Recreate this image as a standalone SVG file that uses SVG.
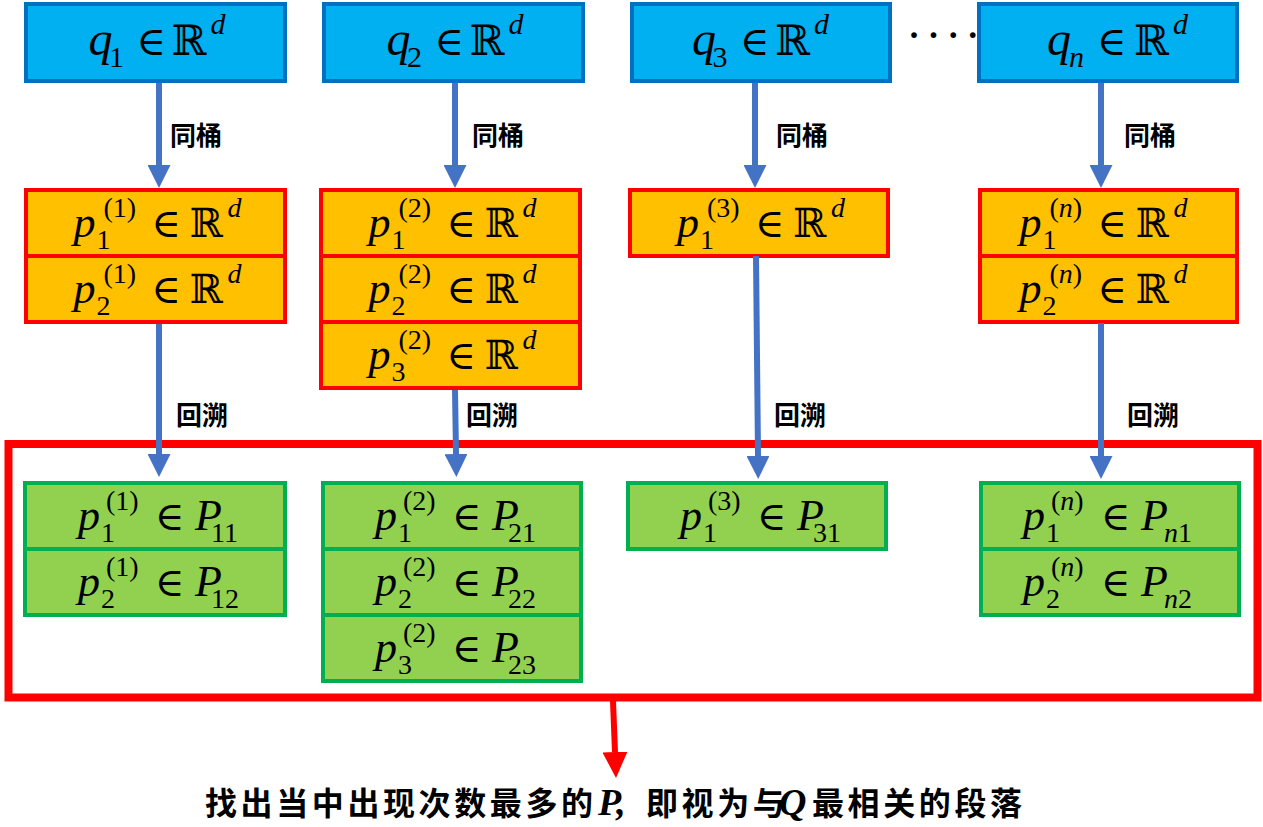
<svg xmlns="http://www.w3.org/2000/svg" width="1263" height="827" viewBox="0 0 1263 827">
<defs>
<style>
.bq{fill:#00B0F0;stroke:#0070C0;stroke-width:4}
.bo{fill:#FFC000;stroke:#FF0000;stroke-width:4}
.bg{fill:#92D050;stroke:#00B050;stroke-width:4}
.eq{font-family:"Liberation Serif","Times New Roman",serif;fill:#000}
.mi{font-family:"Liberation Serif","Times New Roman",serif;font-style:italic}
.mu{font-family:"Liberation Serif","Times New Roman",serif;font-style:normal}
.db{font-family:"DejaVu Serif",serif;font-style:normal}
.Q{font-size:48px}
.L{font-size:44px}
.M{font-size:40px}
.R{font-size:42px}
.S{font-size:28px}
.T{font-size:30px}
.lbl{font-family:"Noto Sans CJK SC",sans-serif;font-size:26px;font-weight:bold;fill:#000}
.cap{font-family:"Noto Sans CJK SC",sans-serif;font-size:32px;font-weight:bold;letter-spacing:3.6px;fill:#000}
.capm{font-family:"Liberation Serif","Times New Roman",serif;font-style:italic;font-weight:bold;font-size:38px;letter-spacing:0}
.dots{font-family:"Liberation Serif",serif;font-size:48px;letter-spacing:3.6px;fill:#000}
.cb{fill:none;stroke:#4472C4;stroke-width:6}
.cr{fill:none;stroke:#FF0000;stroke-width:6}
</style>
<marker id="hb" viewBox="0 0 23 23" refX="0" refY="11.5" markerWidth="23" markerHeight="23" markerUnits="userSpaceOnUse" orient="auto"><path d="M0,0L23,11.5L0,23z" fill="#4472C4"/></marker>
<marker id="hr" viewBox="0 0 26 25" refX="0" refY="12.5" markerWidth="26" markerHeight="25" markerUnits="userSpaceOnUse" orient="auto"><path d="M0,0L26,12.5L0,25z" fill="#FF0000"/></marker>
</defs>
<rect width="1263" height="827" fill="#fff"/>

<g id="q1"><rect class="bq" x="26" y="4" width="259" height="77"/>
<text class="eq"><tspan class="mi Q" x="88.5" y="55">q</tspan><tspan class="mu T" x="109" y="67">1</tspan><tspan class="db M" x="136.5" y="55">∈</tspan><tspan class="db R" x="171.5" y="55">ℝ</tspan><tspan class="mi T" x="210.5" y="34">d</tspan></text></g>
<g id="q2"><rect class="bq" x="324" y="4" width="259" height="77"/>
<text class="eq"><tspan class="mi Q" x="386.5" y="55">q</tspan><tspan class="mu T" x="407" y="67">2</tspan><tspan class="db M" x="434.5" y="55">∈</tspan><tspan class="db R" x="469.5" y="55">ℝ</tspan><tspan class="mi T" x="508.5" y="34">d</tspan></text></g>
<g id="q3"><rect class="bq" x="632" y="4" width="258" height="77"/>
<text class="eq"><tspan class="mi Q" x="692" y="55">q</tspan><tspan class="mu T" x="712.5" y="67">3</tspan><tspan class="db M" x="740" y="55">∈</tspan><tspan class="db R" x="775" y="55">ℝ</tspan><tspan class="mi T" x="814" y="34">d</tspan></text></g>
<g id="dots"><text class="dots" x="906" y="51">····</text></g>
<g id="qn"><rect class="bq" x="979" y="4" width="258" height="77"/>
<text class="eq"><tspan class="mi Q" x="1047" y="55">q</tspan><tspan class="mi T" x="1069" y="67">n</tspan><tspan class="db M" x="1097" y="55">∈</tspan><tspan class="db R" x="1134" y="55">ℝ</tspan><tspan class="mi T" x="1173" y="34">d</tspan></text></g>

<g id="bucket1"><rect class="bo" x="26" y="190" width="259" height="66"/><rect class="bo" x="26" y="256" width="259" height="66"/>
<text class="eq"><tspan class="mi L" x="73.5" y="237">p</tspan><tspan class="mu S" x="96.5" y="249">1</tspan><tspan class="mu S" x="103.5" y="217">(1)</tspan><tspan class="db M" x="151.5" y="237">∈</tspan><tspan class="db M" x="189.5" y="237">ℝ</tspan><tspan class="mi S" x="227.5" y="217">d</tspan></text>
<text class="eq"><tspan class="mi L" x="73.5" y="303">p</tspan><tspan class="mu S" x="96.5" y="315">2</tspan><tspan class="mu S" x="103.5" y="283">(1)</tspan><tspan class="db M" x="151.5" y="303">∈</tspan><tspan class="db M" x="189.5" y="303">ℝ</tspan><tspan class="mi S" x="227.5" y="283">d</tspan></text></g>
<g id="bucket2"><rect class="bo" x="321" y="190" width="259" height="66"/><rect class="bo" x="321" y="256" width="259" height="66"/><rect class="bo" x="321" y="322" width="259" height="66"/>
<text class="eq"><tspan class="mi L" x="368.5" y="237">p</tspan><tspan class="mu S" x="391.5" y="249">1</tspan><tspan class="mu S" x="398.5" y="217">(2)</tspan><tspan class="db M" x="446.5" y="237">∈</tspan><tspan class="db M" x="484.5" y="237">ℝ</tspan><tspan class="mi S" x="522.5" y="217">d</tspan></text>
<text class="eq"><tspan class="mi L" x="368.5" y="303">p</tspan><tspan class="mu S" x="391.5" y="315">2</tspan><tspan class="mu S" x="398.5" y="283">(2)</tspan><tspan class="db M" x="446.5" y="303">∈</tspan><tspan class="db M" x="484.5" y="303">ℝ</tspan><tspan class="mi S" x="522.5" y="283">d</tspan></text>
<text class="eq"><tspan class="mi L" x="368.5" y="369">p</tspan><tspan class="mu S" x="391.5" y="381">3</tspan><tspan class="mu S" x="398.5" y="349">(2)</tspan><tspan class="db M" x="446.5" y="369">∈</tspan><tspan class="db M" x="484.5" y="369">ℝ</tspan><tspan class="mi S" x="522.5" y="349">d</tspan></text></g>
<g id="bucket3"><rect class="bo" x="630" y="190" width="258" height="66"/>
<text class="eq"><tspan class="mi L" x="677" y="237">p</tspan><tspan class="mu S" x="700" y="249">1</tspan><tspan class="mu S" x="707" y="217">(3)</tspan><tspan class="db M" x="755" y="237">∈</tspan><tspan class="db M" x="793" y="237">ℝ</tspan><tspan class="mi S" x="831" y="217">d</tspan></text></g>
<g id="bucketn"><rect class="bo" x="980" y="190" width="257" height="66"/><rect class="bo" x="980" y="256" width="257" height="66"/>
<text class="eq"><tspan class="mi L" x="1019.5" y="237">p</tspan><tspan class="mu S" x="1042.5" y="249">1</tspan><tspan class="mu S" x="1049.5" y="217">(<tspan class="mi">n</tspan>)</tspan><tspan class="db M" x="1097.5" y="237">∈</tspan><tspan class="db M" x="1135.5" y="237">ℝ</tspan><tspan class="mi S" x="1173.5" y="217">d</tspan></text>
<text class="eq"><tspan class="mi L" x="1019.5" y="303">p</tspan><tspan class="mu S" x="1042.5" y="315">2</tspan><tspan class="mu S" x="1049.5" y="283">(<tspan class="mi">n</tspan>)</tspan><tspan class="db M" x="1097.5" y="303">∈</tspan><tspan class="db M" x="1135.5" y="303">ℝ</tspan><tspan class="mi S" x="1173.5" y="283">d</tspan></text></g>

<g id="result-box"><rect x="8.5" y="444" width="1249" height="253.5" fill="none" stroke="#FF0000" stroke-width="8"/></g>

<g id="passages1"><rect class="bg" x="25" y="483" width="260" height="66"/><rect class="bg" x="25" y="549" width="260" height="66"/>
<text class="eq"><tspan class="mi L" x="78" y="530">p</tspan><tspan class="mu S" x="101" y="542">1</tspan><tspan class="mu S" x="106" y="510">(1)</tspan><tspan class="db M" x="155" y="530">∈</tspan><tspan class="mi L" x="195" y="530">P</tspan><tspan class="mu S" x="211" y="542">11</tspan></text>
<text class="eq"><tspan class="mi L" x="78" y="596">p</tspan><tspan class="mu S" x="101" y="608">2</tspan><tspan class="mu S" x="106" y="576">(1)</tspan><tspan class="db M" x="155" y="596">∈</tspan><tspan class="mi L" x="195" y="596">P</tspan><tspan class="mu S" x="211" y="608">12</tspan></text></g>
<g id="passages2"><rect class="bg" x="323" y="483" width="258" height="66"/><rect class="bg" x="323" y="549" width="258" height="66"/><rect class="bg" x="323" y="615" width="258" height="66"/>
<text class="eq"><tspan class="mi L" x="375" y="530">p</tspan><tspan class="mu S" x="398" y="542">1</tspan><tspan class="mu S" x="403" y="510">(2)</tspan><tspan class="db M" x="452" y="530">∈</tspan><tspan class="mi L" x="492" y="530">P</tspan><tspan class="mu S" x="508" y="542">21</tspan></text>
<text class="eq"><tspan class="mi L" x="375" y="596">p</tspan><tspan class="mu S" x="398" y="608">2</tspan><tspan class="mu S" x="403" y="576">(2)</tspan><tspan class="db M" x="452" y="596">∈</tspan><tspan class="mi L" x="492" y="596">P</tspan><tspan class="mu S" x="508" y="608">22</tspan></text>
<text class="eq"><tspan class="mi L" x="375" y="662">p</tspan><tspan class="mu S" x="398" y="674">3</tspan><tspan class="mu S" x="403" y="642">(2)</tspan><tspan class="db M" x="452" y="662">∈</tspan><tspan class="mi L" x="492" y="662">P</tspan><tspan class="mu S" x="508" y="674">23</tspan></text></g>
<g id="passages3"><rect class="bg" x="628" y="483" width="258" height="66"/>
<text class="eq"><tspan class="mi L" x="680" y="530">p</tspan><tspan class="mu S" x="703" y="542">1</tspan><tspan class="mu S" x="708" y="510">(3)</tspan><tspan class="db M" x="757" y="530">∈</tspan><tspan class="mi L" x="797" y="530">P</tspan><tspan class="mu S" x="813" y="542">31</tspan></text></g>
<g id="passagesn"><rect class="bg" x="981" y="483" width="258" height="66"/><rect class="bg" x="981" y="549" width="258" height="66"/>
<text class="eq"><tspan class="mi L" x="1023" y="530">p</tspan><tspan class="mu S" x="1046" y="542">1</tspan><tspan class="mu S" x="1051" y="510">(<tspan class="mi">n</tspan>)</tspan><tspan class="db M" x="1101" y="530">∈</tspan><tspan class="mi L" x="1141" y="530">P</tspan><tspan class="mu S" x="1164" y="542"><tspan class="mi">n</tspan>1</tspan></text>
<text class="eq"><tspan class="mi L" x="1023" y="596">p</tspan><tspan class="mu S" x="1046" y="608">2</tspan><tspan class="mu S" x="1051" y="576">(<tspan class="mi">n</tspan>)</tspan><tspan class="db M" x="1101" y="596">∈</tspan><tspan class="mi L" x="1141" y="596">P</tspan><tspan class="mu S" x="1164" y="608"><tspan class="mi">n</tspan>2</tspan></text></g>

<g id="connectors">
<line class="cb" x1="159" y1="83" x2="159" y2="165" marker-end="url(#hb)"/>
<line class="cb" x1="455" y1="83" x2="455" y2="165" marker-end="url(#hb)"/>
<line class="cb" x1="755" y1="83" x2="755" y2="165" marker-end="url(#hb)"/>
<line class="cb" x1="1101" y1="83" x2="1101" y2="165" marker-end="url(#hb)"/>
<line class="cb" x1="159" y1="324" x2="159" y2="454" marker-end="url(#hb)"/>
<line class="cb" x1="455" y1="390" x2="456" y2="454" marker-end="url(#hb)"/>
<line class="cb" x1="756" y1="256" x2="758" y2="456" marker-end="url(#hb)"/>
<line class="cb" x1="1101" y1="323" x2="1101" y2="456" marker-end="url(#hb)"/>
<line class="cr" x1="613" y1="701" x2="615" y2="752" marker-end="url(#hr)"/>
<text class="lbl" x="170" y="145">同桶</text>
<text class="lbl" x="472" y="145">同桶</text>
<text class="lbl" x="776" y="145">同桶</text>
<text class="lbl" x="1124" y="145">同桶</text>
<text class="lbl" x="176" y="425">回溯</text>
<text class="lbl" x="466" y="425">回溯</text>
<text class="lbl" x="774" y="425">回溯</text>
<text class="lbl" x="1127" y="425">回溯</text>
</g>

<g id="conclusion"><text class="cap" y="815"><tspan x="205">找出当中出现次数最多的</tspan><tspan x="598" class="capm">P,</tspan><tspan x="646">即视为与</tspan><tspan x="779" class="capm">Q</tspan><tspan x="812">最相关的段落</tspan></text></g>
</svg>
